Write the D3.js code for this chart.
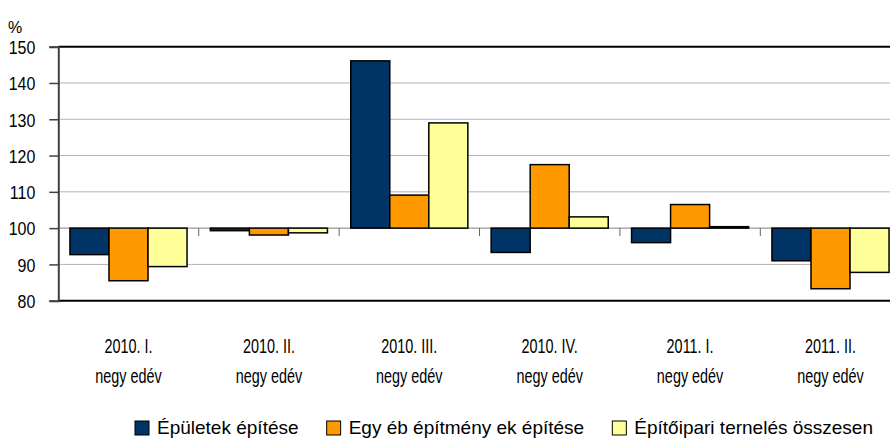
<!DOCTYPE html>
<html><head><meta charset="utf-8">
<script src="https://cdn.jsdelivr.net/npm/d3@7"></script>
<style>body{margin:0;background:#fff}svg{display:block;font-family:"Liberation Sans",Arial,sans-serif}</style>
</head><body><svg id="c" width="890" height="439"></svg>
<script>
const categories = ["2010. I.|negy edév","2010. II.|negy edév","2010. III.|negy edév","2010. IV.|negy edév","2011. I.|negy edév","2011. II.|negy edév"];
const seriesNames = ["Épületek építése","Egy éb építmény ek építése","Építőipari ternelés összesen"];
const epuletek = [92.7, 99.3, 146.1, 93.3, 96.0, 91.0];
const egyeb = [85.5, 98.1, 109.1, 117.5, 106.5, 83.3];
const osszesen = [89.4, 98.7, 129.0, 103.1, 100.4, 87.8];
const yTicks = [80, 90, 100, 110, 120, 130, 140, 150];
const colors = ["#003366", "#FF9900", "#FFFF99"];

(function(){
const series = [epuletek, egyeb, osszesen];
const svg = d3.select("#c");
const pL = 58.3, pR = 900.7, pT = 46.7, pB = 300.7;
const x0 = d3.scaleBand().domain(categories).range([pL, pR]).paddingInner(0).paddingOuter(0);
const bw = x0.bandwidth();
const x1 = d3.scaleBand().domain([0,1,2]).range([bw*0.083, bw*0.917]).padding(0);
const y = d3.scaleLinear().domain([80,150]).range([pB, pT]);

function squeeze(sel, f) {
  sel.each(function(){ const w = this.getComputedTextLength(); d3.select(this).attr("textLength", w*f).attr("lengthAdjust","spacingAndGlyphs"); });
}

svg.append("g").selectAll("line").data(yTicks.filter(t => t>80 && t<150)).join("line")
  .attr("x1", pL).attr("x2", pR).attr("y1", d=>y(d)).attr("y2", d=>y(d))
  .attr("stroke", d => d===100 ? "#808080" : "#b4b4b4").attr("stroke-width", 1);

const g = svg.append("g");
categories.forEach((c, i) => {
  series.forEach((s, j) => {
    const v = s[i];
    g.append("rect")
      .attr("x", x0(c) + x1(j))
      .attr("width", x1.bandwidth())
      .attr("y", y(Math.max(v,100)))
      .attr("height", Math.max(Math.abs(y(v) - y(100)), 1))
      .attr("fill", colors[j]).attr("stroke", "#000").attr("stroke-width", 1.5);
  });
});

svg.append("g").selectAll("line").data(categories.slice(1)).join("line")
  .attr("x1", d=>x0(d)).attr("x2", d=>x0(d)).attr("y1", y(100)).attr("y2", y(100)+8)
  .attr("stroke", "#666").attr("stroke-width", 1);

svg.append("line").attr("x1", pL).attr("x2", pR).attr("y1", y(150)).attr("y2", y(150)).attr("stroke","#000").attr("stroke-width",2);
svg.append("line").attr("x1", pL).attr("x2", pR).attr("y1", y(80)).attr("y2", y(80)).attr("stroke","#000").attr("stroke-width",2);

const yAxis = d3.axisLeft(y).tickValues(yTicks).tickSize(9).tickPadding(14);
const ya = svg.append("g").attr("transform", `translate(${pL},0)`).call(yAxis);
ya.select(".domain").attr("stroke","#404040").attr("stroke-width",2);
ya.selectAll(".tick line").attr("stroke","#404040").attr("stroke-width",1.5);
ya.selectAll(".tick text").attr("font-size", 19).attr("fill","#000").attr("font-family","'Liberation Sans',Arial,sans-serif").attr("dy","0.36em");
squeeze(ya.selectAll(".tick text"), 0.84);

svg.append("text").attr("x", 8).attr("y", 33).attr("font-size", 16).text("%");

const xl = svg.append("g");
categories.forEach(c => {
  const parts = c.split("|");
  const cx = x0(c) + bw/2;
  xl.append("text").attr("x", cx).attr("y", 353).attr("text-anchor","middle").attr("font-size",20).text(parts[0]);
  xl.append("text").attr("x", cx).attr("y", 383).attr("text-anchor","middle").attr("font-size",20).text(parts[1]);
});
squeeze(xl.selectAll("text"), 0.72);

// legend spread between x=135 and x=873
const lg = svg.append("g");
const items = seriesNames.map((n, j) => {
  const t = lg.append("text").attr("y", 434).attr("font-size", 19).text(n);
  return {t, w: t.node().getComputedTextLength(), j};
});
const lStart = 135, lEnd = 873, sq = 14, sgap = 8;
const totalW = d3.sum(items, d => d.w) + items.length * (sq + sgap);
const igap = Math.max(12, (lEnd - lStart - totalW) / (items.length - 1));
let lx = lStart;
items.forEach(d => {
  lg.append("rect").attr("x", lx).attr("y", 421).attr("width", sq).attr("height", sq)
    .attr("fill", colors[d.j]).attr("stroke","#000").attr("stroke-width",1);
  d.t.attr("x", lx + sq + sgap);
  lx += sq + sgap + d.w + igap;
});
})();
</script></body></html>
